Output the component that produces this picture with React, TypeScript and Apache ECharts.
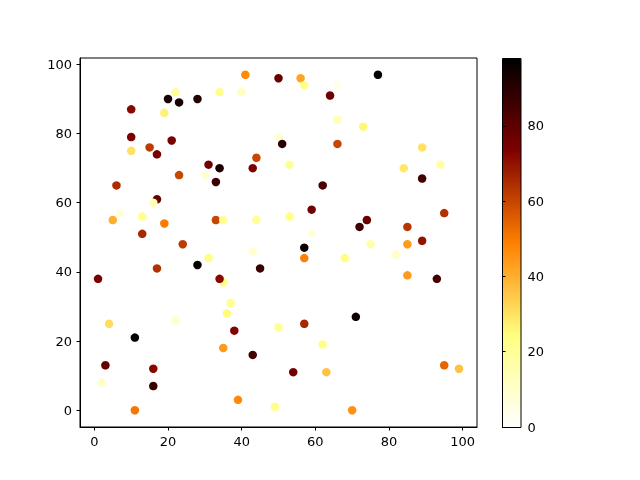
import React, { useEffect, useRef } from "react";
import * as echarts from "echarts";

const xs = [41, 50, 22, 34, 40, 20, 23, 28, 10, 19, 10, 10, 15, 21, 17, 50, 51, 44, 43, 31, 34, 30, 33, 23, 6, 17, 16, 7, 5, 13, 19, 33, 35, 44, 13, 24,
  56, 57, 66, 77, 64, 66, 73, 66, 89, 53, 84, 94, 89, 62, 59, 53, 74, 72, 95, 59, 85, 89, 85, 75, 57,
  43, 17, 21, 28, 31, 45, 1, 35, 34, 37, 36, 22, 4, 11, 38, 50, 35, 43, 3, 16, 16, 2, 39, 49, 11,
  57, 68, 82, 85, 93, 71, 57, 62, 54, 63, 95, 99, 70];
const ys = [97, 96, 92, 92, 92, 90, 89, 90, 87, 86, 79, 75, 76, 78, 74, 79, 77, 73, 70, 71, 70, 68, 66, 68, 65, 61, 60, 57, 55, 56, 54, 55, 55, 55, 51, 48,
  96, 94, 94, 97, 91, 84, 82, 77, 76, 71, 70, 71, 67, 65, 58, 56, 55, 53, 57, 51, 53, 49, 48, 48, 47,
  46, 41, 42, 42, 44, 41, 38, 37, 38, 31, 28, 26, 25, 21, 23, 24, 18, 16, 13, 12, 7, 8, 3, 1, 0,
  44, 44, 45, 39, 38, 27, 25, 19, 11, 11, 13, 12, 0];
const vals = [47, 78, 18, 22, 12, 93, 93, 91, 72, 27, 74, 30, 62, 75, 75, 8, 90, 60, 74, 76, 93, 8, 86, 60, 65, 79, 14, 7, 40, 22, 50, 60, 20, 20, 66, 62,
  42, 24, 4, 97, 76, 14, 26, 60, 30, 20, 29, 19, 85, 83, 76, 23, 78, 86, 64, 7, 63, 70, 44, 17, 96,
  9, 64, 0, 97, 23, 87, 74, 23, 72, 22, 25, 11, 31, 98, 73, 22, 44, 85, 78, 72, 87, 11, 47, 22, 51,
  49, 23, 11, 44, 85, 96, 66, 23, 76, 36, 54, 36, 46];

const xTicks = [0, 20, 40, 60, 80, 100];
const yTicks = [0, 20, 40, 60, 80, 100];
const cbTicks = [0, 20, 40, 60, 80];

// afmhot_r colormap stops (0 -> 1)
const cmap = ["#ffffff", "#ffff80", "#ff8000", "#800000", "#000000"];

const FONT = "DejaVu Sans";

export default function App() {
  const ref = useRef<HTMLDivElement>(null);
  useEffect(() => {
    document.body.style.margin = "0";
    const chart = echarts.init(ref.current!, null, { renderer: "svg" });
    const vmin = Math.min(...vals);
    const vmax = Math.max(...vals);
    const xMin = Math.min(...xs), xMax = Math.max(...xs);
    const yMin = Math.min(...ys), yMax = Math.max(...ys);
    const xm = (xMax - xMin) * 0.05, ym = (yMax - yMin) * 0.05;
    const data = xs.map((x, i) => [x, ys[i], vals[i]]);
    const labelStyle = { color: "#000", fontFamily: FONT, fontSize: 13 };
    chart.setOption({
      animation: false,
      grid: [
        { left: 80, top: 58, width: 397, height: 369, show: true, borderColor: "#000", borderWidth: 1, backgroundColor: "transparent" },
        { left: 502, top: 58, width: 18.5, height: 369, show: false },
      ],
      xAxis: [
        {
          gridIndex: 0, type: "value", min: xMin - xm, max: xMax + xm,
          splitLine: { show: false },
          axisLine: { show: true, onZero: false, lineStyle: { color: "#000" } },
          axisTick: { show: true, length: 3.5, customValues: xTicks, lineStyle: { color: "#000" } },
          axisLabel: { ...labelStyle, margin: 8, customValues: xTicks },
        },
        { gridIndex: 1, type: "value", show: false, min: 0, max: 1 },
      ],
      yAxis: [
        {
          gridIndex: 0, type: "value", min: yMin - ym, max: yMax + ym,
          splitLine: { show: false },
          axisLine: { show: true, onZero: false, lineStyle: { color: "#000" } },
          axisTick: { show: true, length: 3.5, customValues: yTicks, lineStyle: { color: "#000" } },
          axisLabel: { ...labelStyle, margin: 8, customValues: yTicks },
        },
        {
          gridIndex: 1, type: "value", position: "right", min: vmin, max: vmax,
          splitLine: { show: false },
          axisLine: { show: false },
          axisTick: { show: true, length: 3.5, customValues: cbTicks, lineStyle: { color: "#000" } },
          axisLabel: { ...labelStyle, margin: 7, customValues: cbTicks },
        },
      ],
      visualMap: {
        show: false, type: "continuous", dimension: 2, seriesIndex: 0,
        min: vmin, max: vmax, inRange: { color: cmap },
      },
      graphic: [
        {
          type: "rect", left: 502, top: 58, z: -1,
          shape: { width: 18.5, height: 369 },
          style: {
            fill: {
              type: "linear", x: 0, y: 1, x2: 0, y2: 0,
              colorStops: cmap.map((c, i) => ({ offset: i / (cmap.length - 1), color: c })),
            },
            stroke: "#000", lineWidth: 1,
          },
        },
      ],
      series: [
        {
          type: "scatter", xAxisIndex: 0, yAxisIndex: 0, data,
          symbolSize: 8.5, itemStyle: { opacity: 1 },
        },
      ],
    });
    return () => chart.dispose();
  }, []);
  return <div ref={ref} style={{ position: "fixed", left: 0, top: 0, width: 640, height: 480 }} />;
}
